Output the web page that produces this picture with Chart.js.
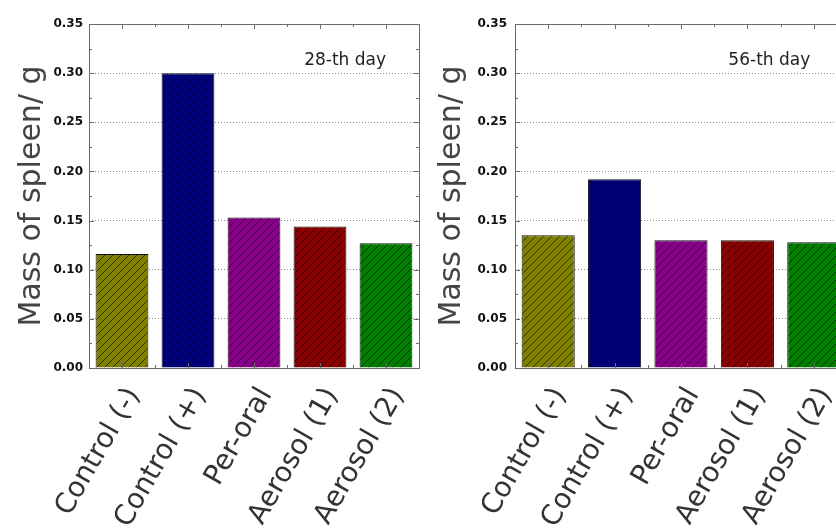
<!DOCTYPE html>
<html>
<head>
<meta charset="utf-8">
<script src="https://cdn.jsdelivr.net/npm/chart.js@4.4.1/dist/chart.umd.min.js"></script>
<style>
  html, body { margin: 0; padding: 0; background: #fff; }
  body { width: 836px; height: 530px; overflow: hidden; position: relative; }
  .panel { position: absolute; top: 0; height: 530px; }
  #left { left: 0; width: 420px; }
  #right { left: 420px; width: 430px; }
</style>
</head>
<body>
<div class="panel" id="left"><canvas id="c28"></canvas></div>
<div class="panel" id="right"><canvas id="c56"></canvas></div>
<script>
// data (mass of spleen, g)
const categories = ['Control (-)', 'Control (+)', 'Per-oral', 'Aerosol (1)', 'Aerosol (2)']
const day28Mass = [0.116, 0.300, 0.153, 0.144, 0.127]
const day56Mass = [0.135, 0.192, 0.130, 0.130, 0.128]
const barColors = ['#7f7f00', '#00007f', '#8b008b', '#8b0000', '#007f00']
const yMin = 0
const yMax = 0.35
const yStep = 0.05
const dayLabel28 = '28-th day'
const dayLabel56 = '56-th day'
const yTitle = 'Mass of spleen/ g'

// diagonal hatch on top of the fill colour
function hatch(color) {
    const s = 8
    const c = document.createElement('canvas')
    c.width = s
    c.height = s
    const g = c.getContext('2d')
    g.fillStyle = color
    g.fillRect(0, 0, s, s)
    g.strokeStyle = 'rgba(0,0,0,0.75)'
    g.lineWidth = 0.8
    g.beginPath()
    g.moveTo(0, s); g.lineTo(s, 0)
    g.moveTo(-1, 1); g.lineTo(1, -1)
    g.moveTo(s - 1, s + 1); g.lineTo(s + 1, s - 1)
    g.stroke()
    return g.createPattern(c, 'repeat')
}

// box around the plot with small inward ticks, like the original software draws
const frameTicks = {
    id: 'frameTicks',
    afterDatasetsDraw(chart) {
        const ctx = chart.ctx
        const a = chart.chartArea
        const x = chart.scales.x
        const y = chart.scales.y
        ctx.save()
        ctx.strokeStyle = '#6a6a6a'
        ctx.lineWidth = 1
        ctx.strokeRect(Math.round(a.left) + 0.5, Math.round(a.top) + 0.5, Math.round(a.right - a.left), Math.round(a.bottom - a.top))
        const seg = (x1, y1, x2, y2) => { ctx.beginPath(); ctx.moveTo(x1, y1); ctx.lineTo(x2, y2); ctx.stroke() }
        for (let v = yMin; v <= yMax + 1e-9; v += yStep / 2) {
            const py = Math.round(y.getPixelForValue(v)) + 0.5
            const major = Math.abs(v / yStep - Math.round(v / yStep)) < 1e-6
            const len = major ? 5 : 3
            seg(a.left, py, a.left + len, py)
            seg(a.right, py, a.right - len, py)
        }
        for (let i = 0; i < categories.length; i++) {
            const pc = Math.round(x.getPixelForValue(i)) + 0.5
            const pe = Math.round(x.getPixelForValue(i + 0.5)) + 0.5
            seg(pc, a.top, pc, a.top + 5)
            seg(pc, a.bottom, pc, a.bottom - 5)
            seg(pe, a.top, pe, a.top + 3)
            seg(pe, a.bottom, pe, a.bottom - 3)
        }
        ctx.restore()
    }
}

// "28-th day" style note inside the plot
const dayNote = {
    id: 'dayNote',
    afterDatasetsDraw(chart, args, opts) {
        if (!opts.text) return
        const ctx = chart.ctx
        ctx.save()
        ctx.font = '17px "DejaVu Sans"'
        ctx.fillStyle = '#222'
        ctx.textAlign = 'center'
        ctx.textBaseline = 'middle'
        ctx.fillText(opts.text, chart.scales.x.getPixelForValue(opts.x), chart.scales.y.getPixelForValue(opts.y))
        ctx.restore()
    }
}

function makeChart(canvasId, values, note, axisWidth, padRight, tickPad) {
    return new Chart(document.getElementById(canvasId), {
        type: 'bar',
        data: {
            labels: categories,
            datasets: [{
                data: values,
                backgroundColor: barColors.map(hatch),
                borderColor: '#111',
                borderWidth: 1,
                barPercentage: 0.8,
                categoryPercentage: 1.0
            }]
        },
        options: {
            responsive: true,
            maintainAspectRatio: false,
            animation: false,
            layout: { padding: { top: 24, right: padRight, left: 0, bottom: 0 } },
            scales: {
                x: {
                    grid: { display: false, drawTicks: false },
                    border: { display: false },
                    ticks: {
                        autoSkip: false,
                        maxRotation: 60,
                        minRotation: 60,
                        padding: 14,
                        labelOffset: 12,
                        color: '#333',
                        font: { family: '"DejaVu Sans"', size: 28 }
                    },
                    afterFit: (s) => {
                        s.height = 162
                        s.paddingLeft = 0
                        s.paddingRight = 0
                    }
                },
                y: {
                    min: yMin,
                    max: yMax,
                    border: { display: false, dash: [1, 2] },
                    grid: { color: '#8a8a8a', drawTicks: false },
                    ticks: {
                        stepSize: yStep,
                        padding: tickPad,
                        color: '#111',
                        font: { family: '"DejaVu Sans"', size: 12, weight: 'bold' },
                        callback: (v) => Number(v).toFixed(2)
                    },
                    title: {
                        display: true,
                        text: yTitle,
                        color: '#444',
                        padding: { top: 14, bottom: 0 },
                        font: { family: '"DejaVu Sans"', size: 30, weight: 'normal' }
                    },
                    afterFit: (s) => { s.width = axisWidth }
                }
            },
            plugins: {
                legend: { display: false },
                tooltip: { enabled: false },
                dayNote: note
            }
        },
        plugins: [frameTicks, dayNote]
    })
}

makeChart('c28', day28Mass, { text: dayLabel28, x: 3.38, y: 0.313 }, 89, 1, 6)
makeChart('c56', day56Mass, { text: dayLabel56, x: 3.33, y: 0.313 }, 95, 3, 8)
</script>
</body>
</html>
